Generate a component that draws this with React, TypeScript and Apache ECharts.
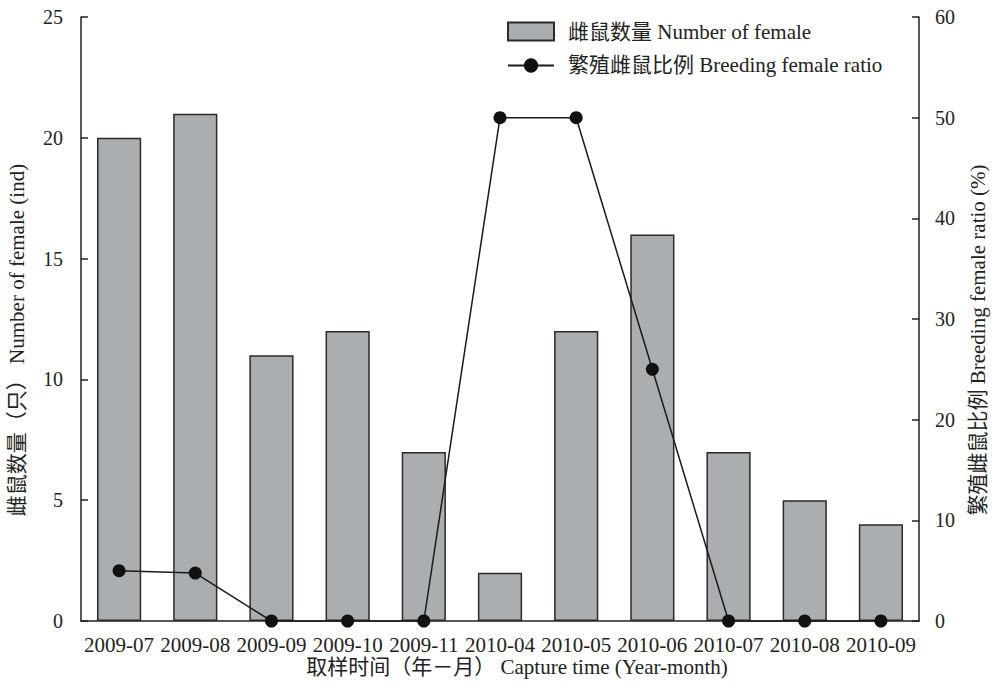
import React, { useEffect, useRef } from "react";
import * as echarts from "echarts";

const categories = ["2009-07", "2009-08", "2009-09", "2009-10", "2009-11", "2010-04", "2010-05", "2010-06", "2010-07", "2010-08", "2010-09"];
const femaleCounts = [20, 21, 11, 12, 7, 2, 12, 16, 7, 5, 4];
const breedingRatio = [5, 4.76, 0, 0, 0, 50, 50, 25, 0, 0, 0];
const leftTicks = [0, 5, 10, 15, 20, 25];
const rightTicks = [0, 10, 20, 30, 40, 50, 60];

const FONT = "'Liberation Serif', 'Noto Sans CJK SC', serif";
const INK = "#222";

export default function App() {
  const ref = useRef<HTMLDivElement>(null);
  useEffect(() => {
    const chart = echarts.init(ref.current!, null, { renderer: "svg" });
    chart.setOption({
      animation: false,
      backgroundColor: "#fff",
      textStyle: { fontFamily: FONT },
      grid: { left: 81, right: 78, top: 17, bottom: 74, outerBoundsMode: "none", containLabel: false },
      legend: {
        orient: "vertical",
        left: 507,
        top: 21,
        padding: 0,
        itemWidth: 46,
        itemHeight: 18,
        itemGap: 13,
        textStyle: { fontFamily: FONT, fontSize: 21, color: INK, padding: [0, 0, 0, 9] },
        data: [
          { name: "雌鼠数量 Number of female", icon: "rect" },
          { name: "繁殖雌鼠比例 Breeding female ratio" },
        ],
      },
      xAxis: {
        type: "category",
        data: categories,
        axisLine: { lineStyle: { color: INK, width: 1.5 } },
        axisTick: { show: false },
        axisLabel: { color: INK, fontSize: 21, fontFamily: FONT, margin: 13, interval: 0, hideOverlap: false },
      },
      yAxis: [
        {
          type: "value",
          min: 0,
          max: 25,
          interval: 5,
          axisLine: { show: true, lineStyle: { color: INK, width: 1.5 } },
          axisTick: { show: true, inside: true, length: 7, lineStyle: { color: INK, width: 1.5 } },
          axisLabel: { color: INK, fontSize: 20, fontFamily: FONT, margin: 18, formatter: (v: number) => (leftTicks.includes(v) ? String(v) : "") },
          splitLine: { show: false },
        },
        {
          type: "value",
          min: 0,
          max: 60,
          interval: 10,
          axisLine: { show: true, lineStyle: { color: INK, width: 1.5 } },
          axisTick: { show: true, inside: true, length: 7, lineStyle: { color: INK, width: 1.5 } },
          axisLabel: { color: INK, fontSize: 20, fontFamily: FONT, margin: 16, formatter: (v: number) => (rightTicks.includes(v) ? String(v) : "") },
          splitLine: { show: false },
        },
      ],
      series: [
        {
          name: "雌鼠数量 Number of female",
          type: "bar",
          data: femaleCounts,
          barWidth: "58%",
          itemStyle: { color: "#abaeb0", borderColor: "#2a2a2a", borderWidth: 1.5 },
        },
        {
          name: "繁殖雌鼠比例 Breeding female ratio",
          type: "line",
          yAxisIndex: 1,
          data: breedingRatio,
          symbol: "circle",
          symbolSize: 13,
          lineStyle: { color: "#1a1a1a", width: 1.5 },
          itemStyle: { color: "#111" },
          clip: false,
          z: 5,
        },
      ],
      graphic: [
        {
          type: "text",
          x: 517,
          y: 667,
          style: { text: "取样时间（年－月） Capture time (Year-month)", fontSize: 21, fontFamily: FONT, fill: INK, align: "center", verticalAlign: "middle" },
        },
        {
          type: "text",
          x: 17,
          y: 340,
          rotation: Math.PI / 2,
          style: { text: "雌鼠数量（只） Number of female (ind)", fontSize: 21, fontFamily: FONT, fill: INK, align: "center", verticalAlign: "middle" },
        },
        {
          type: "text",
          x: 978,
          y: 340,
          rotation: Math.PI / 2,
          style: { text: "繁殖雌鼠比例 Breeding female ratio (%)", fontSize: 21, fontFamily: FONT, fill: INK, align: "center", verticalAlign: "middle" },
        },
      ],
    });
    return () => chart.dispose();
  }, []);
  return <div ref={ref} style={{ position: "fixed", left: 0, top: 0, width: 997, height: 695 }} />;
}
